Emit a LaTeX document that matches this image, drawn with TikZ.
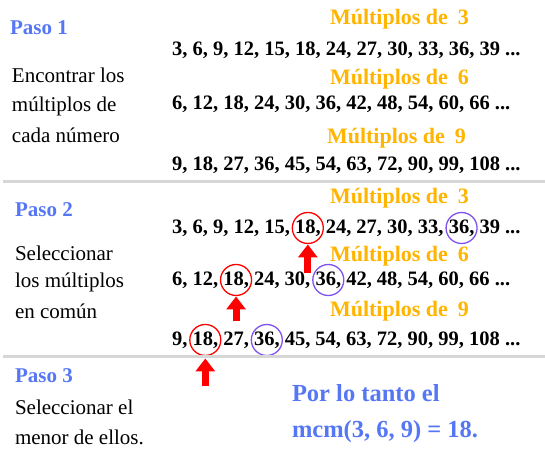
\documentclass[tikz,border=0pt]{standalone}
\usepackage{fontspec}
\setmainfont{Liberation Serif}
\usetikzlibrary{arrows.meta}
\definecolor{pasoblue}{HTML}{5677F5}
\definecolor{multorange}{HTML}{FFB400}
\definecolor{ringred}{HTML}{FF0000}
\definecolor{ringpurple}{HTML}{8050F0}
\definecolor{sepgray}{HTML}{D6D6D6}
\begin{document}
\begin{tikzpicture}[x=1pt,y=-1pt,
  every node/.style={inner sep=0pt, outer sep=0pt},
  paso/.style={anchor=west, text=pasoblue, font=\fontsize{21}{24}\selectfont\bfseries},
  desc/.style={anchor=west, font=\fontsize{21}{24}\selectfont},
  mult/.style={anchor=west, text=multorange, font=\fontsize{22}{26}\selectfont\bfseries},
  nums/.style={anchor=west, font=\fontsize{20.5}{24}\selectfont\bfseries},
  numpart/.style={anchor=base west, font=\fontsize{20.5}{24}\selectfont\bfseries},
  redring/.style={circle, draw=ringred, line width=1.3pt, minimum size=31pt},
  purring/.style={circle, draw=ringpurple, line width=1.3pt, minimum size=31pt},
  uparrow/.style={draw=ringred, line width=7pt, -{Triangle[width=19pt,length=13pt]}},
  sepline/.style={draw=sepgray, line width=3pt},
  result/.style={anchor=west, text=pasoblue, font=\fontsize{24.5}{28}\selectfont\bfseries}
]
\useasboundingbox (0,0) rectangle (545,450);

% ---------- Paso 1 ----------
\node[paso] (p1) at (10,28) {Paso 1};
\node[desc] (d11) at (12,75) {Encontrar los};
\node[desc] (d12) at (12,106) {múltiplos de};
\node[desc] (d13) at (12,135) {cada número};

\node[mult] (m13) at (330,19) {Múltiplos de\hspace{.45em}3};
\node[nums] (l11) at (172,50) {3, 6, 9, 12, 15, 18, 24, 27, 30, 33, 36, 39 ...};
\node[mult] (m16) at (330,79) {Múltiplos de\hspace{.45em}6};
\node[nums] (l12) at (172,104) {6, 12, 18, 24, 30, 36, 42, 48, 54, 60, 66 ...};
\node[mult] (m19) at (327,138) {Múltiplos de\hspace{.45em}9};
\node[nums] (l13) at (172,165) {9, 18, 27, 36, 45, 54, 63, 72, 90, 99, 108 ...};

\coordinate (s1a) at (3,181.5);
\coordinate (s1b) at (545,181.5);
\draw[sepline] (s1a) -- (s1b);

% ---------- Paso 2 ----------
\node[paso] (p2) at (15,210) {Paso 2};
\node[desc] (d21) at (15,253) {Seleccionar};
\node[desc] (d22) at (15,282) {los múltiplos};
\node[desc] (d23) at (15,311) {en común};

\node[mult] (m23) at (330,198) {Múltiplos de\hspace{.45em}3};
\node[nums] (a1) at (172,228) {3, 6, 9, 12, 15,\kern.25em};
\node[numpart] (b1) at (a1.base east) {18,};
\node[numpart] (c1) at (b1.base east) {\kern.25em 24, 27, 30, 33,\kern.25em};
\node[numpart] (e1) at (c1.base east) {36,};
\node[numpart] (f1) at (e1.base east) {\kern.25em 39 ...};

\node[mult] (m26) at (330,256) {Múltiplos de\hspace{.45em}6};
\node[nums] (a2) at (172,280) {6, 12,\kern.25em};
\node[numpart] (b2) at (a2.base east) {18,};
\node[numpart] (c2) at (b2.base east) {\kern.25em 24, 30,\kern.25em};
\node[numpart] (e2) at (c2.base east) {36,};
\node[numpart] (f2) at (e2.base east) {\kern.25em 42, 48, 54, 60, 66 ...};

\node[mult] (m29) at (330,311) {Múltiplos de\hspace{.45em}9};
\node[nums] (a3) at (172,340) {9,\kern.25em};
\node[numpart] (b3) at (a3.base east) {18,};
\node[numpart] (c3) at (b3.base east) {\kern.25em 27,\kern.25em};
\node[numpart] (e3) at (c3.base east) {36,};
\node[numpart] (f3) at (e3.base east) {\kern.25em 45, 54, 63, 72, 90, 99, 108 ...};

\node[redring] (r1) at (b1.center) {};
\node[purring] (q1) at (e1.center) {};
\node[redring] (r2) at (b2.center) {};
\node[purring] (q2) at (e2.center) {};
\node[redring] (r3) at (b3.center) {};
\node[purring] (q3) at (e3.center) {};

\coordinate (s2a) at (3,356);
\coordinate (s2b) at (545,356);
\draw[sepline] (s2a) -- (s2b);

\coordinate (t1) at ([yshift=-1pt]r1.south);
\coordinate (u1) at ([yshift=-30pt]r1.south);
\draw[uparrow] (u1) -- (t1);
\coordinate (t2) at ([yshift=-1pt]r2.south);
\coordinate (u2) at ([yshift=-26pt]r2.south);
\draw[uparrow] (u2) -- (t2);
\coordinate (t3) at ([yshift=-3pt]r3.south);
\coordinate (u3) at ([yshift=-31pt]r3.south);
\draw[uparrow] (u3) -- (t3);

% ---------- Paso 3 ----------
\node[paso] (p3) at (15,376) {Paso 3};
\node[desc] (d31) at (15,407) {Seleccionar el};
\node[desc] (d32) at (15,437) {menor de ellos.};
\node[result] (res1) at (292,393) {Por lo tanto el};
\node[result] (res2) at (292,432) {mcm(3, 6, 9) = 18.};
\end{tikzpicture}
\end{document}
